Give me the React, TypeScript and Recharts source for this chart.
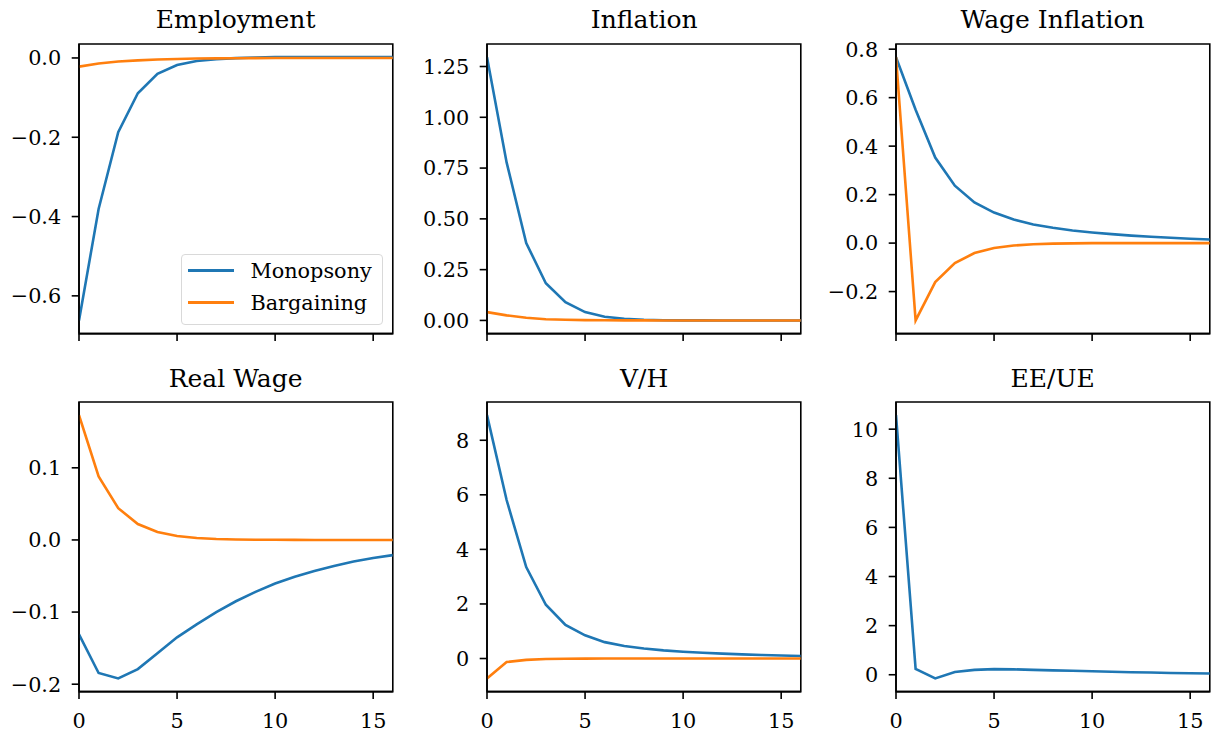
import React from 'react';
import { LineChart, Line, XAxis, YAxis, ReferenceArea } from 'recharts';

// ---------- data ----------
const periods = [0, 1, 2, 3, 4, 5, 6, 7, 8, 9, 10, 11, 12, 13, 14, 15, 16];
const xTicks = [0, 5, 10, 15];

const employmentMonopsony = [-0.662, -0.381, -0.187, -0.089, -0.04, -0.018, -0.0075, -0.003, -0.0005, 0.001, 0.002, 0.002, 0.002, 0.002, 0.002, 0.002, 0.002];
const employmentBargaining = [-0.022, -0.014, -0.009, -0.006, -0.004, -0.0025, -0.0015, -0.001, -0.0006, -0.0004, -0.0002, -0.0001, 0, 0, 0, 0, 0];

const inflationMonopsony = [1.296, 0.778, 0.381, 0.183, 0.09, 0.041, 0.018, 0.008, 0.003, 0.001, 0.0005, 0.0002, 0, 0, 0, 0, 0];
const inflationBargaining = [0.041, 0.025, 0.013, 0.006, 0.003, 0.0015, 0.0007, 0.0003, 0.0001, 0, 0, 0, 0, 0, 0, 0, 0];

const wageInflationMonopsony = [0.767, 0.55, 0.353, 0.237, 0.168, 0.126, 0.097, 0.077, 0.063, 0.052, 0.044, 0.037, 0.031, 0.026, 0.022, 0.018, 0.015];
const wageInflationBargaining = [0.767, -0.319, -0.161, -0.082, -0.041, -0.02, -0.01, -0.005, -0.002, -0.001, 0, 0, 0, 0, 0, 0, 0];

const realWageMonopsony = [-0.131, -0.1845, -0.192, -0.179, -0.157, -0.135, -0.117, -0.1, -0.085, -0.072, -0.0605, -0.051, -0.043, -0.036, -0.03, -0.025, -0.021];
const realWageBargaining = [0.173, 0.088, 0.044, 0.022, 0.011, 0.0055, 0.0028, 0.0014, 0.0007, 0.0003, 0.0002, 0.0001, 0, 0, 0, 0, 0];

const vhMonopsony = [8.92, 5.81, 3.35, 1.97, 1.23, 0.85, 0.6, 0.46, 0.37, 0.3, 0.25, 0.21, 0.18, 0.15, 0.13, 0.11, 0.09];
const vhBargaining = [-0.73, -0.13, -0.05, -0.02, -0.01, -0.005, 0, 0, 0, 0, 0, 0, 0, 0, 0, 0, 0];

const eeueMonopsony = [10.57, 0.24, -0.15, 0.11, 0.2, 0.23, 0.22, 0.2, 0.18, 0.16, 0.14, 0.12, 0.1, 0.09, 0.07, 0.06, 0.05];

const employmentTicks = [0, -0.2, -0.4, -0.6];
const inflationTicks = [0, 0.25, 0.5, 0.75, 1.0, 1.25];
const wageInflationTicks = [-0.2, 0, 0.2, 0.4, 0.6, 0.8];
const realWageTicks = [-0.2, -0.1, 0, 0.1];
const vhTicks = [0, 2, 4, 6, 8];
const eeueTicks = [0, 2, 4, 6, 8, 10];

const seriesNames = ['Monopsony', 'Bargaining'];
const titles = ['Employment', 'Inflation', 'Wage Inflation', 'Real Wage', 'V/H', 'EE/UE'];

// ---------- style / layout ----------
const BLUE = '#1f77b4';
const ORANGE = '#ff7f0e';
const FONT = "'DejaVu Serif', serif";
const COL_L = [78.7, 487.3, 895.7];
const ROW_T = [43.7, 402.3];
const PW = 313.8;
const PH = 289.6;
const YW = 80;
const MT = 10;
const MR = 10;
const XH = 50;
const LW = 2.6;

function fmt(d: number) {
  return (v: number) => {
    const s = Math.abs(v).toFixed(d);
    return v < -1e-9 ? '\u2212' + s : s;
  };
}

function padded(vals: number[]): [number, number] {
  const mn = Math.min(...vals);
  const mx = Math.max(...vals);
  const r = mx - mn;
  return [mn - 0.05 * r, mx + 0.05 * r];
}

type PanelProps = {
  title: string;
  mono: number[];
  barg?: number[];
  yTicks: number[];
  decimals: number;
  col: number;
  row: number;
};

function Panel({ title, mono, barg, yTicks, decimals, col, row }: PanelProps) {
  const L = COL_L[col];
  const T = ROW_T[row];
  const data = periods.map((t, i) => ({ t, m: mono[i], b: barg ? barg[i] : null }));
  const dom = padded([...mono, ...(barg || [])]);
  const tickStyle = { fill: '#000', fontSize: 20.8, fontFamily: FONT };
  return (
    <>
      <div
        style={{
          position: 'absolute',
          left: L,
          width: PW,
          top: T - 15.6 - 21.2,
          fontFamily: FONT,
          fontSize: 25,
          lineHeight: '25px',
          textAlign: 'center',
          color: '#000',
          whiteSpace: 'nowrap',
        }}
      >
        {title}
      </div>
      <div style={{ position: 'absolute', left: L - YW, top: T - MT }}>
        <LineChart
          width={YW + PW + MR}
          height={MT + PH + XH}
          data={data}
          margin={{ top: MT, right: MR, left: 0, bottom: 0 }}
        >
          <XAxis
            dataKey="t"
            type="number"
            domain={[0, 16]}
            ticks={xTicks}
            allowDataOverflow
            interval={0}
            height={XH}
            tickSize={7.3}
            tickMargin={13.9}
            tick={tickStyle}
            tickLine={{ stroke: '#000', strokeWidth: 1.6 }}
            axisLine={{ stroke: '#000', strokeWidth: 1.6 }}
            tickFormatter={row === 1 ? (v: number) => String(v) : () => ''}
          />
          <YAxis
            type="number"
            domain={dom}
            ticks={yTicks}
            allowDataOverflow
            interval={0}
            width={YW}
            tickSize={7.3}
            tickMargin={10.5}
            tick={tickStyle}
            tickLine={{ stroke: '#000', strokeWidth: 1.6 }}
            axisLine={{ stroke: '#000', strokeWidth: 1.6 }}
            tickFormatter={fmt(decimals)}
          />
          <ReferenceArea x1={0} x2={16} y1={dom[0]} y2={dom[1]} fill="none" fillOpacity={0} stroke="#000" strokeWidth={1.6} />
          <Line
            dataKey="m"
            name={seriesNames[0]}
            type="linear"
            stroke={BLUE}
            strokeWidth={LW}
            dot={false}
            activeDot={false}
            isAnimationActive={false}
          />
          {barg && (
            <Line
              dataKey="b"
              name={seriesNames[1]}
              type="linear"
              stroke={ORANGE}
              strokeWidth={LW}
              dot={false}
              activeDot={false}
              isAnimationActive={false}
            />
          )}
        </LineChart>
      </div>
    </>
  );
}

function LegendBox() {
  const items = [
    { name: seriesNames[0], color: BLUE, y: 271 },
    { name: seriesNames[1], color: ORANGE, y: 303.3 },
  ];
  return (
    <div
      style={{
        position: 'absolute',
        left: 181,
        top: 254.3,
        width: 202.3,
        height: 70.7,
        boxSizing: 'border-box',
        border: '1.6px solid #d9d9d9',
        borderRadius: 4,
        background: 'rgba(255,255,255,0.8)',
      }}
    >
      {items.map((it) => (
        <React.Fragment key={it.name}>
          <div
            style={{
              position: 'absolute',
              left: 188.3 - 181 - 1.6,
              top: it.y - 254.3 - 1.6 - LW / 2,
              width: 46,
              height: LW,
              background: it.color,
            }}
          />
          <div
            style={{
              position: 'absolute',
              left: 251 - 181 - 1.6,
              top: it.y + 8.3 - 17.6 - 254.3 - 1.6,
              fontFamily: FONT,
              fontSize: 20.8,
              lineHeight: '20.8px',
              color: '#000',
              whiteSpace: 'nowrap',
            }}
          >
            {it.name}
          </div>
        </React.Fragment>
      ))}
    </div>
  );
}

export default function App() {
  return (
    <div
      style={{
        position: 'absolute',
        left: 0,
        top: 0,
        width: 1211,
        height: 732,
        overflow: 'hidden',
        background: '#fff',
      }}
    >
      <Panel title={titles[0]} mono={employmentMonopsony} barg={employmentBargaining} yTicks={employmentTicks} decimals={1} col={0} row={0} />
      <Panel title={titles[1]} mono={inflationMonopsony} barg={inflationBargaining} yTicks={inflationTicks} decimals={2} col={1} row={0} />
      <Panel title={titles[2]} mono={wageInflationMonopsony} barg={wageInflationBargaining} yTicks={wageInflationTicks} decimals={1} col={2} row={0} />
      <Panel title={titles[3]} mono={realWageMonopsony} barg={realWageBargaining} yTicks={realWageTicks} decimals={1} col={0} row={1} />
      <Panel title={titles[4]} mono={vhMonopsony} barg={vhBargaining} yTicks={vhTicks} decimals={0} col={1} row={1} />
      <Panel title={titles[5]} mono={eeueMonopsony} yTicks={eeueTicks} decimals={0} col={2} row={1} />
      <LegendBox />
    </div>
  );
}
